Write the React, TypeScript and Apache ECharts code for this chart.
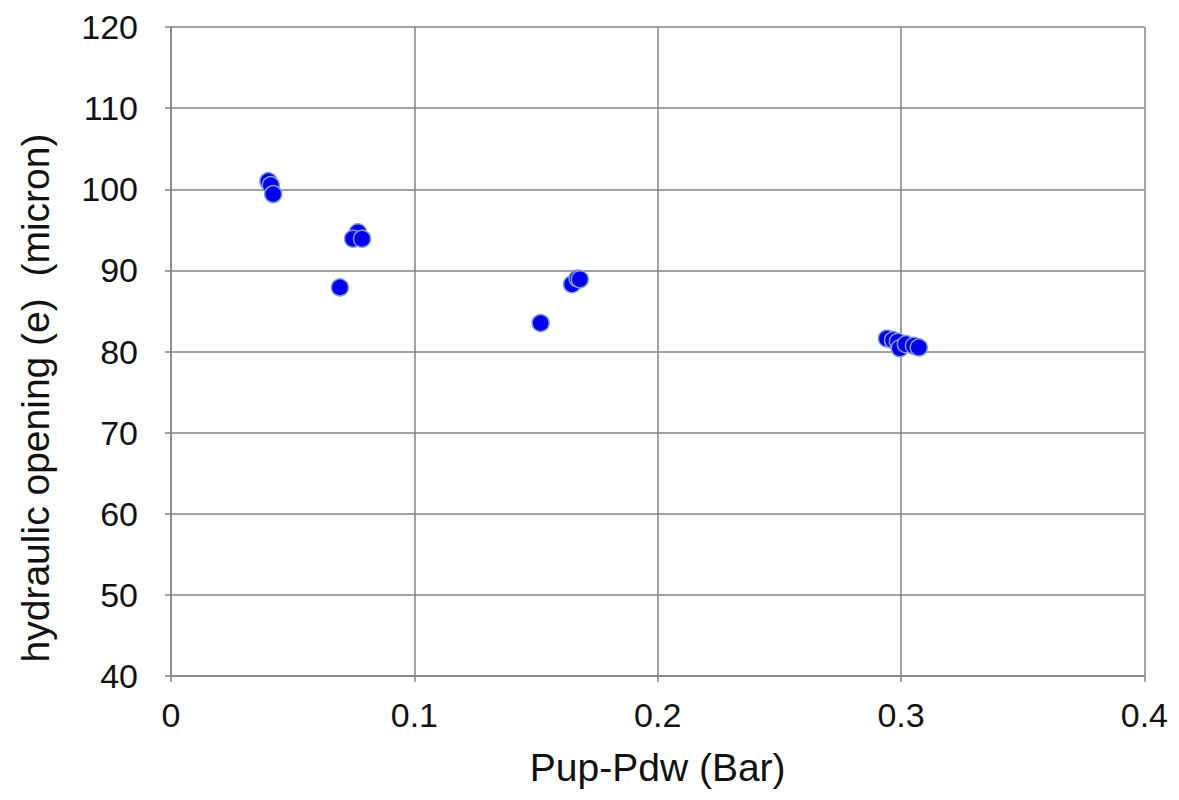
import React, { useEffect, useRef } from "react";
import * as echarts from "echarts";

const xValues = [0.040, 0.041, 0.042, 0.0768, 0.0748, 0.0785, 0.0694, 0.1519, 0.1648, 0.1671, 0.168, 0.2942, 0.2967, 0.2987, 0.2995, 0.302, 0.3053, 0.3073];
const yValues = [101.0, 100.5, 99.4, 94.7, 93.9, 93.9, 87.9, 83.5, 88.3, 89.0, 88.9, 81.6, 81.4, 81.2, 80.4, 80.9, 80.7, 80.5];
const xTicks = { min: 0, max: 0.4, interval: 0.1 };
const yTicks = { min: 40, max: 120, interval: 10 };
const xName = "Pup-Pdw (Bar)";
const yName = "hydraulic opening (e)  (micron)";

export default function App() {
  const ref = useRef<HTMLDivElement>(null);
  useEffect(() => {
    if (!ref.current) return;
    const chart = echarts.init(ref.current, null, { renderer: "svg" });
    const font = "'Liberation Sans', Arial, sans-serif";
    const gridColor = "#858585";
    chart.setOption({
      animation: false,
      backgroundColor: "#ffffff",
      grid: { left: 163, top: 19, right: 19, bottom: 107, containLabel: false },
      graphic: [
        {
          type: "text",
          x: 27,
          y: 390,
          rotation: Math.PI / 2,
          style: {
            text: yName,
            font: `39px ${font}`,
            fill: "#111",
            align: "center",
            verticalAlign: "middle",
          },
        },
      ],
      xAxis: {
        type: "value",
        min: xTicks.min,
        max: xTicks.max,
        interval: xTicks.interval,
        name: xName,
        nameLocation: "middle",
        nameGap: 72,
        nameTextStyle: { fontFamily: font, fontSize: 39, color: "#111" },
        axisLine: { show: true, lineStyle: { color: gridColor, width: 1.5 } },
        axisTick: { show: true, length: 6, lineStyle: { color: gridColor, width: 1.5 } },
        axisLabel: { fontFamily: font, fontSize: 34, color: "#111", margin: 22, formatter: (v: number) => String(Number(v.toFixed(2))) },
        splitLine: { show: true, lineStyle: { color: gridColor, width: 1.5 } },
      },
      yAxis: {
        type: "value",
        min: yTicks.min,
        max: yTicks.max,
        interval: yTicks.interval,
        axisLine: { show: true, lineStyle: { color: gridColor, width: 1.5 } },
        axisTick: { show: true, length: 6, lineStyle: { color: gridColor, width: 1.5 } },
        axisLabel: { fontFamily: font, fontSize: 34, color: "#111", margin: 33 },
        splitLine: { show: true, lineStyle: { color: gridColor, width: 1.5 } },
      },
      series: [
        {
          type: "scatter",
          data: xValues.map((x, i) => [x, yValues[i]]),
          symbol: "circle",
          symbolSize: 17,
          itemStyle: { color: "#0000ee", borderColor: "#7f9fd6", borderWidth: 1.5, opacity: 1 },
        },
      ],
    });
    return () => chart.dispose();
  }, []);
  return <div ref={ref} style={{ width: 1163, height: 784 }} />;
}
